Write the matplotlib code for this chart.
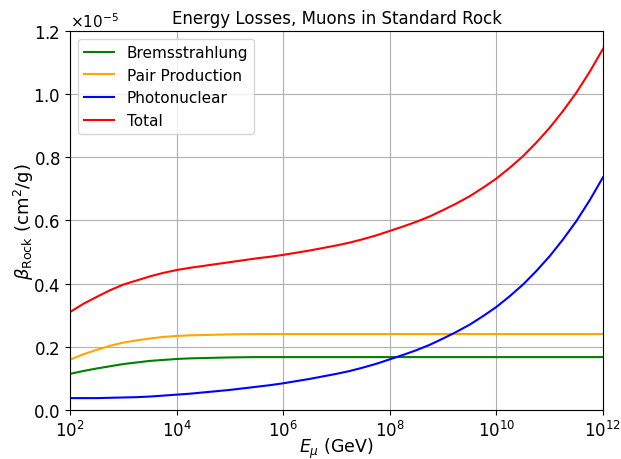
import numpy as np
import matplotlib
matplotlib.use("Agg")
from matplotlib import pyplot as plt
from matplotlib.ticker import NullLocator

# muon energy grid, quarter-decade steps in log10(E / GeV): 2.0 ... 12.0
log_energy = [2.0, 2.25, 2.5, 2.75, 3.0, 3.25, 3.5, 3.75, 4.0, 4.25,
              4.5, 4.75, 5.0, 5.25, 5.5, 5.75, 6.0, 6.25, 6.5, 6.75,
              7.0, 7.25, 7.5, 7.75, 8.0, 8.25, 8.5, 8.75, 9.0, 9.25,
              9.5, 9.75, 10.0, 10.25, 10.5, 10.75, 11.0, 11.25, 11.5, 11.75,
              12.0]

# beta contributions in units of 1e-5 cm^2/g
beta_brems = [0.114, 0.123, 0.131, 0.138, 0.145, 0.150, 0.155, 0.158, 0.161, 0.163,
              0.164, 0.165, 0.166, 0.1665, 0.167, 0.167, 0.167, 0.167, 0.167, 0.167,
              0.167, 0.167, 0.167, 0.167, 0.167, 0.167, 0.167, 0.167, 0.167, 0.167,
              0.167, 0.167, 0.167, 0.167, 0.167, 0.167, 0.167, 0.167, 0.167, 0.167,
              0.167]
beta_pair = [0.159, 0.176, 0.190, 0.203, 0.213, 0.220, 0.226, 0.231, 0.234, 0.236,
             0.237, 0.238, 0.239, 0.2395, 0.240, 0.240, 0.240, 0.240, 0.240, 0.240,
             0.240, 0.240, 0.240, 0.240, 0.240, 0.240, 0.240, 0.240, 0.240, 0.240,
             0.240, 0.240, 0.240, 0.240, 0.240, 0.240, 0.240, 0.240, 0.240, 0.240,
             0.240]
beta_photonuc = [0.037, 0.037, 0.037, 0.038, 0.039, 0.040, 0.042, 0.045, 0.048, 0.051,
                 0.055, 0.059, 0.063, 0.068, 0.073, 0.078, 0.084, 0.091, 0.098, 0.106,
                 0.114, 0.123, 0.134, 0.146, 0.160, 0.174, 0.189, 0.206, 0.226, 0.247,
                 0.270, 0.297, 0.326, 0.360, 0.397, 0.440, 0.487, 0.540, 0.598, 0.664,
                 0.737]

energy = 10.0 ** np.array(log_energy)
b_brems = np.array(beta_brems) * 1e-5
b_pair = np.array(beta_pair) * 1e-5
b_nuc = np.array(beta_photonuc) * 1e-5
b_total = b_brems + b_pair + b_nuc

fig, ax = plt.subplots(figsize=(6.21, 4.6), dpi=100)
fig.subplots_adjust(left=0.113, right=0.971, top=0.930, bottom=0.107)

ax.plot(energy, b_brems, color="green", label="Bremsstrahlung")
ax.plot(energy, b_pair, color="orange", label="Pair Production")
ax.plot(energy, b_nuc, color="blue", label="Photonuclear")
ax.plot(energy, b_total, color="red", label="Total")

ax.set_xscale("log")
ax.set_xlim(1e2, 1e12)
ax.set_ylim(0, 1.2e-5)
ax.set_xticks([1e2, 1e4, 1e6, 1e8, 1e10, 1e12])
ax.xaxis.set_minor_locator(NullLocator())
ax.set_yticks(np.arange(0, 1.21e-5, 0.2e-5))
ax.ticklabel_format(axis="y", style="sci", scilimits=(0, 0), useMathText=True)
ax.tick_params(labelsize=12)
ax.yaxis.get_offset_text().set_fontsize(11)

ax.set_title("Energy Losses, Muons in Standard Rock", fontsize=12)
ax.set_xlabel(r"$E_\mu$ (GeV)", fontsize=12.5, labelpad=-3)
ax.set_ylabel(r"$\beta_{\rm Rock}$ (cm$^2$/g)", fontsize=13, labelpad=-2)
ax.grid(True)
ax.legend(loc="upper left", fontsize=11)

fig.savefig("out.png", dpi=100)
